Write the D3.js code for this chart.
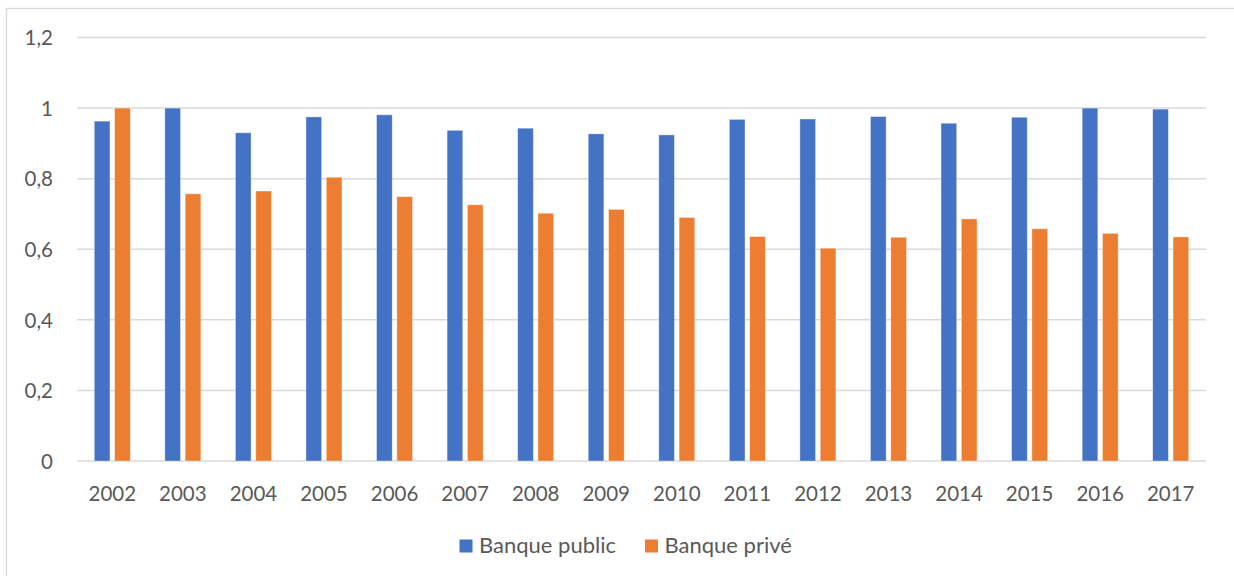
<!DOCTYPE html>
<html>
<head>
<meta charset="utf-8">
<script src="https://cdn.jsdelivr.net/npm/d3@7"></script>
<style>
  html, body { margin: 0; padding: 0; background: #fff; }
  svg { display: block; }
  text { font-family: Lato, "Open Sans", sans-serif; fill: #595959; }
</style>
</head>
<body>
<svg id="chart" width="1234" height="576"></svg>
<script>
// Years on the category axis
const years = ["2002","2003","2004","2005","2006","2007","2008","2009",
               "2010","2011","2012","2013","2014","2015","2016","2017"];
// Series names
const seriesNames = ["Banque public", "Banque privé"];
// Values per series, one per year
const banquePublic = [0.963, 1.000, 0.930, 0.975, 0.981, 0.937, 0.943, 0.927,
                      0.924, 0.968, 0.969, 0.976, 0.957, 0.974, 1.000, 0.997];
const banquePrive  = [1.000, 0.757, 0.765, 0.804, 0.749, 0.726, 0.702, 0.713,
                      0.690, 0.636, 0.603, 0.634, 0.686, 0.658, 0.645, 0.635];
// Value-axis ticks
const yTicks = [0, 0.2, 0.4, 0.6, 0.8, 1, 1.2];

const colors = ["#4472C4", "#ED7D31"];
const seriesValues = [banquePublic, banquePrive];

const svg = d3.select("#chart");
const W = 1234, H = 576;

// Chart frame
svg.append("rect")
  .attr("x", 6.5).attr("y", 8.5)
  .attr("width", W + 10).attr("height", H + 10)
  .attr("fill", "none").attr("stroke", "#d9d9d9").attr("stroke-width", 1.3);

const plot = { left: 77, right: 1206, top: 37.5, bottom: 461 };

const x0 = d3.scaleBand()
  .domain(years)
  .range([plot.left, plot.right])
  .paddingInner(0.49)
  .paddingOuter(0.245);

const x1 = d3.scaleBand()
  .domain(seriesNames)
  .range([0, x0.bandwidth()])
  .paddingInner(0.23)
  .paddingOuter(0);

const y = d3.scaleLinear()
  .domain([0, 1.2])
  .range([plot.bottom, plot.top]);

const fmt = v => d3.format("")(+v.toFixed(1)).replace(".", ",");

// Horizontal gridlines
svg.append("g")
  .selectAll("line")
  .data(yTicks)
  .join("line")
  .attr("x1", plot.left).attr("x2", plot.right)
  .attr("y1", d => y(d)).attr("y2", d => y(d))
  .attr("stroke", "#d9d9d9").attr("stroke-width", 1.5);

// Value-axis labels
const yAxis = d3.axisLeft(y).tickValues(yTicks).tickFormat(fmt).tickSize(0).tickPadding(0);
const yG = svg.append("g")
  .attr("transform", `translate(${plot.left - 24},0)`)
  .call(yAxis);
yG.select(".domain").remove();
yG.selectAll("text")
  .style("font-family", "Lato, sans-serif")
  .style("font-size", "20.5px")
  .attr("fill", "#595959")
  .attr("dy", "0.35em");

// Bars
const groups = svg.append("g")
  .selectAll("g")
  .data(years)
  .join("g")
  .attr("transform", d => `translate(${x0(d)},0)`);

groups.selectAll("rect")
  .data((d, i) => seriesNames.map((s, k) => ({ s, k, v: seriesValues[k][i] })))
  .join("rect")
  .attr("x", d => x1(d.s))
  .attr("width", x1.bandwidth())
  .attr("y", d => y(d.v))
  .attr("height", d => y(0) - y(d.v))
  .attr("fill", d => colors[d.k])
  .attr("stroke", "#ffffff")
  .attr("stroke-opacity", 0.45)
  .attr("stroke-width", 0.8);

// Category axis labels
const xAxis = d3.axisBottom(x0).tickSize(0).tickPadding(0);
const xG = svg.append("g")
  .attr("transform", `translate(0,${plot.bottom})`)
  .call(xAxis);
xG.select(".domain").remove();
xG.selectAll("text")
  .style("font-family", "Lato, sans-serif")
  .style("font-size", "20.5px")
  .attr("fill", "#595959")
  .attr("dy", null)
  .attr("y", 40);

// Legend
const legend = svg.append("g");
let lx = 459.5;
seriesNames.forEach((name, k) => {
  legend.append("rect")
    .attr("x", lx).attr("y", 539.5)
    .attr("width", 13).attr("height", 13)
    .attr("fill", colors[k]);
  const t = legend.append("text")
    .attr("x", lx + 19.5).attr("y", 553)
    .style("font-size", "22px")
    .text(name);
  lx += 19.5 + t.node().getComputedTextLength() + 29;
});
</script>
</body>
</html>
